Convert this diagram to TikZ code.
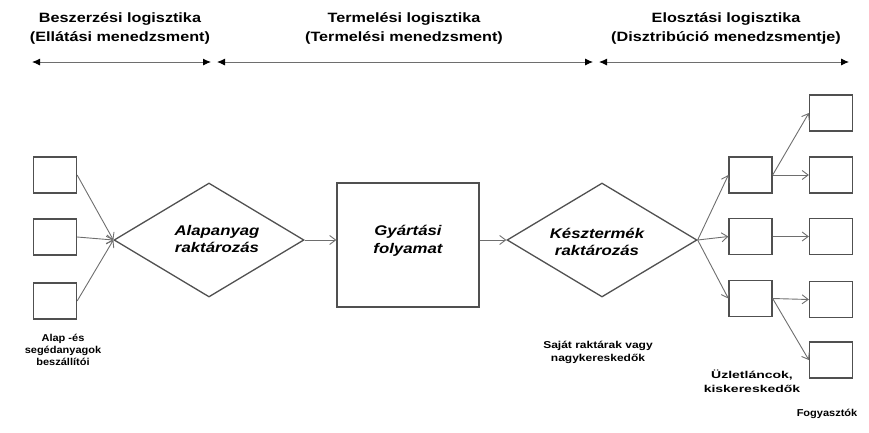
\documentclass[tikz,border=0pt]{standalone}
\usepackage{fontspec}
\setmainfont{Liberation Sans}
\newfontfamily\widefont[FakeStretch=1.2]{Liberation Sans}
\newfontfamily\widerfont[FakeStretch=1.4]{Liberation Sans}
\newfontfamily\slightfont[FakeStretch=1.1]{Liberation Sans}
\usetikzlibrary{arrows.meta,shapes.geometric}
\definecolor{linegray}{HTML}{6E6E6E}
\definecolor{boxgray}{HTML}{505050}
\tikzset{
  titletext/.style={align=center,font=\widefont\bfseries\fontsize{13.5}{19}\selectfont,inner sep=0pt},
  phasearrow/.style={draw=linegray,line width=0.9pt,{Latex[length=8pt,width=7pt,color=black]}-{Latex[length=8pt,width=7pt,color=black]}},
  smallbox/.style={draw=boxgray,line width=1.3pt,minimum width=43pt,minimum height=36pt,inner sep=0pt},
  bigbox/.style={draw=boxgray,line width=1.3pt,minimum width=142pt,minimum height=124pt,inner sep=0pt},
  storage/.style={draw=boxgray,line width=1.3pt,diamond,aspect=1.67,minimum width=190pt,minimum height=114pt,inner sep=0pt},
  flow/.style={draw=linegray,line width=0.9pt,-{Straight Barb[length=6pt,width=9pt,line width=0.9pt]}},
  innertext/.style={align=center,font=\widefont\bfseries\itshape\fontsize{14}{17.5}\selectfont,inner sep=0pt},
  labeltext/.style={align=center,inner sep=0pt}
}
\begin{document}
\begin{tikzpicture}[x=1pt,y=-1pt]
\useasboundingbox (0,0) rectangle (869,432);

% titles
\node[titletext] (t1) at (120,28) {Beszerzési logisztika\\(Ellátási menedzsment)};
\node[titletext] (t2) at (404,28) {Termelési logisztika\\(Termelési menedzsment)};
\node[titletext] (t3) at (726,28) {Elosztási logisztika\\(Disztribúció menedzsmentje)};

% phase arrows
\coordinate (a1l) at (32,62);
\coordinate (a1r) at (211,62);
\coordinate (a2l) at (217,62);
\coordinate (a2r) at (593,62);
\coordinate (a3l) at (599,62);
\coordinate (a3r) at (849,62);
\draw[phasearrow] (a1l) -- (a1r);
\draw[phasearrow] (a2l) -- (a2r);
\draw[phasearrow] (a3l) -- (a3r);

% suppliers
\node[smallbox] (s1) at (55,175) {};
\node[smallbox] (s2) at (55,237) {};
\node[smallbox] (s3) at (55,301) {};

% storage and production
\node[storage] (d1) at (209,240) {};
\node[innertext] (d1t) at (217,239) {Alapanyag\\raktározás};
\node[bigbox] (gy) at (408,245) {};
\node[innertext] (gyt) at (408,241) {Gyártási\\folyamat};
\node[storage] (d2) at (602,240) {};
\node[innertext] (d2t) at (597,242) {Késztermék\\raktározás};

% retailers
\node[smallbox] (m1) at (750.5,175) {};
\node[smallbox] (m2) at (750.5,236.5) {};
\node[smallbox] (m3) at (750.5,298.5) {};

% consumers
\node[smallbox] (r1) at (831,113) {};
\node[smallbox] (r2) at (831,175) {};
\node[smallbox] (r3) at (831,236.5) {};
\node[smallbox] (r4) at (831,299.5) {};
\node[smallbox] (r5) at (831,360) {};

% connectors
\draw[flow] (s1.east) -- (d1.west);
\draw[flow] (s2.east) -- (d1.west);
\draw[flow] (s3.east) -- (d1.west);
\draw[flow] (d1.east) -- (d1.east -| gy.west);
\draw[flow] (gy.east |- d2.west) -- (d2.west);
\draw[flow] (d2.east) -- (m1.west);
\draw[flow] (d2.east) -- (m2.west);
\draw[flow] (d2.east) -- (m3.west);
\draw[flow] (m1.east) -- (r1.west);
\draw[flow] (m1.east) -- (r2.west);
\draw[flow] (m2.east) -- (r3.west);
\draw[flow] (m3.east) -- (r4.west);
\draw[flow] (m3.east) -- (r5.west);

% labels
\node[labeltext,font=\slightfont\bfseries\fontsize{10}{12}\selectfont] (l1) at (63,350) {Alap -és\\segédanyagok\\beszállítói};
\node[labeltext,font=\widefont\bfseries\fontsize{10}{13}\selectfont] (l2) at (598,352) {Saját raktárak vagy\\nagykereskedők};
\node[labeltext,font=\widerfont\bfseries\fontsize{10}{14}\selectfont] (l3) at (752,381) {Üzletláncok,\\kiskereskedők};
\node[labeltext,font=\slightfont\bfseries\fontsize{10}{12}\selectfont] (l4) at (827,414) {Fogyasztók};
\end{tikzpicture}
\end{document}
